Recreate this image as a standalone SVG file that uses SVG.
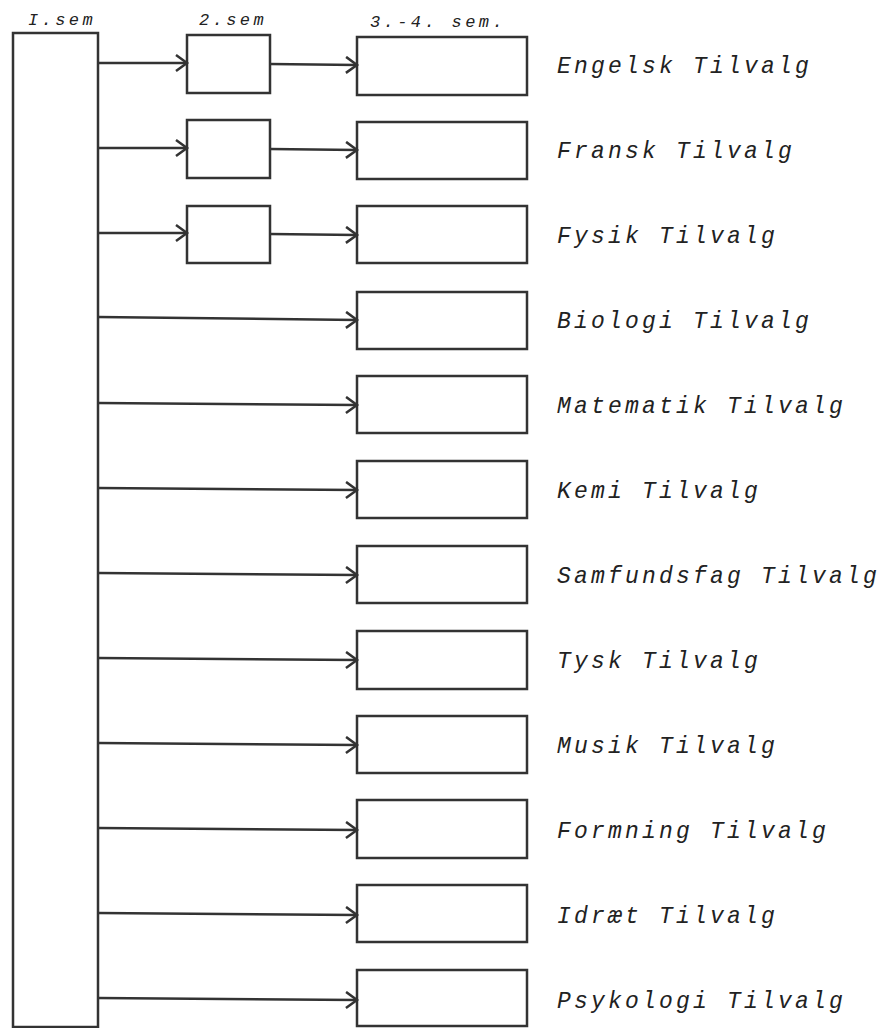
<svg xmlns="http://www.w3.org/2000/svg" width="888" height="1028" viewBox="0 0 888 1028">
<defs>
<style>
.box{fill:#fff;stroke:#333;stroke-width:2.5}
.conn{fill:none;stroke:#333;stroke-width:2.5}
.lbl{font-family:"Liberation Mono",monospace;font-style:italic;font-size:23px;letter-spacing:3.2px;fill:#222}
.hdr{font-family:"Liberation Mono",monospace;font-style:italic;font-size:17px;letter-spacing:3.4px;fill:#222}
</style>
<marker id="arr" markerUnits="userSpaceOnUse" markerWidth="16" markerHeight="20" refX="12" refY="9" orient="auto">
<path d="M1,1 L12,9 L1,17" fill="none" stroke="#333" stroke-width="2.5"/>
</marker>
</defs>
<rect width="888" height="1028" fill="#fff"/>
<text class="hdr" x="28" y="25">I.sem</text>
<text class="hdr" x="199" y="25">2.sem</text>
<text class="hdr" x="370" y="27">3.-4. sem.</text>
<g id="sem1"><rect class="box" x="13" y="33" width="85" height="994"/></g>
<g id="sem2-engelsk"><rect class="box" x="187" y="35" width="83" height="58"/></g>
<g id="sem2-fransk"><rect class="box" x="187" y="120" width="83" height="58"/></g>
<g id="sem2-fysik"><rect class="box" x="187" y="206" width="83" height="57"/></g>
<g id="n1"><rect class="box" x="357" y="37" width="170" height="58"/><text class="lbl" x="557" y="73">Engelsk Tilvalg</text></g>
<g id="n2"><rect class="box" x="357" y="122" width="170" height="57"/><text class="lbl" x="557" y="158">Fransk Tilvalg</text></g>
<g id="n3"><rect class="box" x="357" y="206" width="170" height="57"/><text class="lbl" x="557" y="243">Fysik Tilvalg</text></g>
<g id="n4"><rect class="box" x="357" y="292" width="170" height="57"/><text class="lbl" x="557" y="328">Biologi Tilvalg</text></g>
<g id="n5"><rect class="box" x="357" y="376" width="170" height="57"/><text class="lbl" x="557" y="413">Matematik Tilvalg</text></g>
<g id="n6"><rect class="box" x="357" y="461" width="170" height="57"/><text class="lbl" x="557" y="498">Kemi Tilvalg</text></g>
<g id="n7"><rect class="box" x="357" y="546" width="170" height="57"/><text class="lbl" x="557" y="583">Samfundsfag Tilvalg</text></g>
<g id="n8"><rect class="box" x="357" y="631" width="170" height="58"/><text class="lbl" x="557" y="668">Tysk Tilvalg</text></g>
<g id="n9"><rect class="box" x="357" y="716" width="170" height="57"/><text class="lbl" x="557" y="753">Musik Tilvalg</text></g>
<g id="n10"><rect class="box" x="357" y="800" width="170" height="58"/><text class="lbl" x="557" y="838">Formning Tilvalg</text></g>
<g id="n11"><rect class="box" x="357" y="885" width="170" height="57"/><text class="lbl" x="557" y="923">Idræt Tilvalg</text></g>
<g id="n12"><rect class="box" x="357" y="970" width="170" height="56"/><text class="lbl" x="557" y="1008">Psykologi Tilvalg</text></g>
<g id="connectors">
<line class="conn" x1="98" y1="63" x2="187" y2="63" marker-end="url(#arr)"/>
<line class="conn" x1="270" y1="64" x2="357" y2="65" marker-end="url(#arr)"/>
<line class="conn" x1="98" y1="148" x2="187" y2="148" marker-end="url(#arr)"/>
<line class="conn" x1="270" y1="149" x2="357" y2="150" marker-end="url(#arr)"/>
<line class="conn" x1="98" y1="233" x2="187" y2="233" marker-end="url(#arr)"/>
<line class="conn" x1="270" y1="234" x2="357" y2="235" marker-end="url(#arr)"/>
<line class="conn" x1="98" y1="317" x2="357" y2="320" marker-end="url(#arr)"/>
<line class="conn" x1="98" y1="403" x2="357" y2="405" marker-end="url(#arr)"/>
<line class="conn" x1="98" y1="488" x2="357" y2="490" marker-end="url(#arr)"/>
<line class="conn" x1="98" y1="573" x2="357" y2="575" marker-end="url(#arr)"/>
<line class="conn" x1="98" y1="658" x2="357" y2="660" marker-end="url(#arr)"/>
<line class="conn" x1="98" y1="743" x2="357" y2="745" marker-end="url(#arr)"/>
<line class="conn" x1="98" y1="828" x2="357" y2="830" marker-end="url(#arr)"/>
<line class="conn" x1="98" y1="913" x2="357" y2="915" marker-end="url(#arr)"/>
<line class="conn" x1="98" y1="998" x2="357" y2="1000" marker-end="url(#arr)"/>
</g>
</svg>
